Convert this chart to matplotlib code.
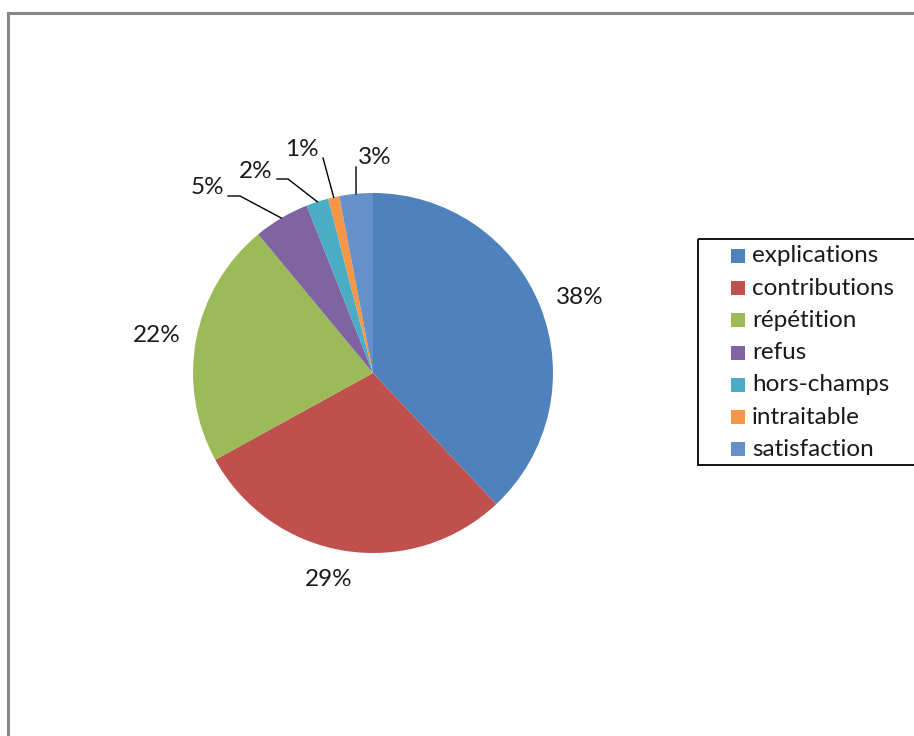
import matplotlib.pyplot as plt
from matplotlib.patches import Rectangle
import numpy as np

plt.rcParams['font.family'] = ['Lato', 'DejaVu Sans']

# data
categories = ['explications', 'contributions', 'répétition', 'refus',
              'hors-champs', 'intraitable', 'satisfaction']
values = [38, 29, 22, 5, 2, 1, 3]
colors = ['#4F81BD', '#C0504D', '#9BBB59', '#8064A2',
          '#4BACC6', '#F79646', '#6690CA']

# label placement (pixels), elbows for small slices
label_pos = [(580, 298), (329, 580), (157, 335), (207, 188),
             (256, 171), (302, 150), (375, 157)]
leader_pts = [None, None, None, [(240, 196), (228, 196)],
              [(288, 179), (277, 179)], [(323, 158)], [(356, 167)]]

W, H = 914, 736
cx, cy, R = 373, 373, 180

fig = plt.figure(figsize=(W / 100, H / 100), dpi=100)
ax = fig.add_axes([0, 0, 1, 1])
ax.set_xlim(0, W)
ax.set_ylim(H, 0)
ax.set_aspect('equal')
ax.axis('off')

# outer chart frame (clipped at right and bottom)
ax.plot([8, 8, W + 5], [H + 5, 12.5, 12.5], color='#888888', lw=2.2,
        solid_joinstyle='miter', clip_on=False)

# y axis is inverted -> start at -90 and go counterclockwise in data space
wedges, _ = ax.pie(values, colors=colors, center=(cx, cy), radius=R,
                   startangle=-90, counterclock=True,
                   wedgeprops=dict(linewidth=0))
ax.set_xlim(0, W)
ax.set_ylim(H, 0)

total = sum(values)
for w, v, (lx, ly), pts in zip(wedges, values, label_pos, leader_pts):
    if pts is not None:
        ang = np.deg2rad((w.theta1 + w.theta2) / 2)
        ex, ey = cx + R * np.cos(ang), cy + R * np.sin(ang)
        xs = [ex] + [p[0] for p in pts]
        ys = [ey] + [p[1] for p in pts]
        ax.plot(xs, ys, color='black', lw=1.0)
    ax.text(lx, ly, f"{round(100 * v / total)}%", fontsize=17.5,
            ha='center', va='center', color='#1a1a1a')

# legend box
ax.add_patch(Rectangle((698, 239), 240, 226, fill=False, edgecolor='black',
                       lw=1.3, clip_on=False))
for i, (name, c) in enumerate(zip(categories, colors)):
    y = 256 + i * 32.2
    ax.add_patch(Rectangle((731, y - 7), 14, 14, facecolor=c, edgecolor='none'))
    ax.text(752, y, name, fontsize=17.5, ha='left', va='center', color='#1a1a1a')

fig.savefig('out.png', dpi=100)
